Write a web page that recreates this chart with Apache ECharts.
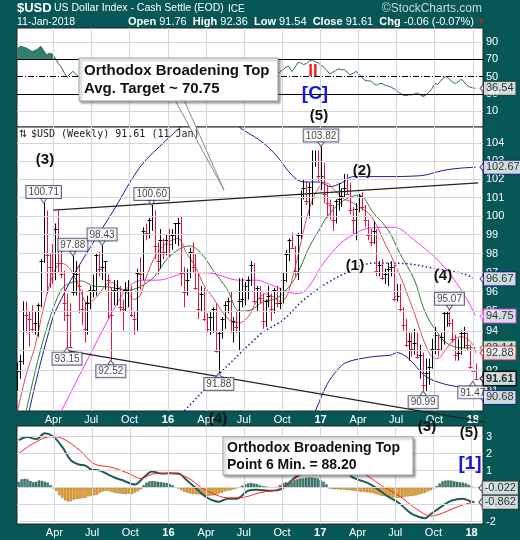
<!DOCTYPE html>
<html><head><meta charset="utf-8">
<script src="https://cdn.jsdelivr.net/npm/echarts@6/dist/echarts.min.js"></script>
<style>html,body{margin:0;padding:0;background:#075757;}#c{width:520px;height:540px;}</style>
</head><body><div id="c"></div>
<script>
// ---------- DATA (weekly, first week = Mon 5 Jan 2015) ----------
const highs = [92.4,92.8,95.5,95.5,95.0,95.3,95.0,95.4,97.7,100.71,100.3,98.0,98.5,99.6,100.3,98.5,97.1,95.9,95.4,97.88,97.6,97.4,96.1,95.5,95.8,96.3,96.9,98.0,98.1,98.43,97.6,96.9,96.2,96.6,96.6,96.3,95.6,96.5,96.6,96.3,95.0,97.2,97.8,99.4,99.6,99.9,100.60,100.3,98.6,99.3,98.8,99.0,
99.3,99.3,99.6,99.9,100.0,97.3,97.2,98.3,98.6,98.0,97.0,96.3,96.2,94.9,95.0,95.2,95.4,94.0,94.7,95.5,95.7,96.0,94.7,95.0,96.7,96.7,96.5,96.8,97.6,97.5,96.3,96.3,95.9,95.6,96.3,95.9,96.2,96.3,96.2,97.0,98.2,98.8,99.1,98.4,99.1,101.4,102.0,101.9,101.8,103.6,103.6,103.6,
103.82,102.9,101.7,100.9,100.6,100.9,101.8,101.5,102.3,102.3,101.8,100.5,100.7,101.2,101.3,100.6,99.8,99.3,99.7,99.3,97.6,97.7,97.2,97.5,97.6,97.4,96.4,96.4,95.2,94.6,93.9,93.9,94.1,93.9,93.3,92.9,92.6,92.6,93.6,94.2,93.8,93.9,95.0,95.0,95.07,94.6,93.8,93.6,94.0,94.2,93.9,93.3,
92.3,92.36];
const lows = [91.0,91.6,92.3,93.9,93.2,93.9,93.8,93.7,95.2,97.5,95.9,96.2,96.4,96.6,97.0,96.7,94.5,93.15,93.2,95.8,95.8,94.9,94.3,93.4,93.8,95.1,95.7,95.8,96.8,96.6,96.1,94.6,92.52,95.3,95.3,95.0,94.0,95.0,95.2,94.7,93.8,94.0,96.1,96.6,98.7,98.8,99.2,97.7,96.9,97.2,97.7,97.9,
97.8,98.2,98.5,98.4,96.3,95.2,95.8,96.7,97.0,96.1,94.6,95.0,94.5,93.9,93.8,93.9,92.9,91.88,93.6,94.1,94.9,93.9,93.4,93.9,93.0,95.2,95.3,95.6,96.3,95.4,95.0,95.4,94.1,94.2,95.2,94.5,94.9,95.2,95.1,95.4,96.5,97.6,98.3,96.8,96.6,98.8,100.9,100.6,99.9,100.6,102.7,101.9,
101.4,100.7,99.9,99.8,99.2,99.6,100.3,100.5,101.0,101.2,100.1,99.0,98.7,100.2,100.3,99.4,98.7,98.4,98.5,96.8,96.8,96.6,96.4,96.3,96.8,95.5,95.5,95.0,94.0,93.2,92.5,92.7,92.8,92.6,91.6,90.99,91.0,91.3,92.1,92.8,92.7,93.0,93.3,94.2,94.2,93.4,92.5,92.5,92.8,93.1,93.0,92.1,
91.47,91.54];
const closes = [92.0,92.5,95.0,94.8,94.6,94.1,94.4,95.3,97.6,100.0,97.9,97.3,97.0,99.3,97.5,96.9,95.4,94.8,93.2,96.0,96.9,96.3,95.1,94.1,95.4,96.1,96.1,97.9,97.2,97.3,97.6,96.6,94.8,96.1,96.2,95.2,95.1,96.1,96.1,94.8,94.6,97.0,96.9,99.2,99.1,99.8,100.0,98.4,97.6,98.7,98.1,98.7,
98.5,99.0,99.6,99.6,97.0,96.0,96.6,98.1,97.3,96.2,95.1,95.9,94.6,94.1,94.7,95.1,93.0,93.9,94.6,95.3,95.5,94.0,94.5,94.2,95.5,95.6,96.3,96.6,97.4,95.5,96.2,95.7,94.5,95.5,95.8,95.1,96.1,95.4,95.4,96.6,98.0,98.7,98.3,97.1,99.0,101.2,101.5,100.8,101.6,103.0,103.0,102.2,
102.2,101.2,100.7,100.6,99.8,100.8,100.9,101.1,101.5,101.2,100.3,99.8,100.4,101.1,100.5,99.8,99.0,98.6,99.2,97.1,97.4,96.7,96.9,97.2,97.3,95.6,95.8,95.1,94.3,93.3,93.5,93.1,93.4,92.7,92.8,91.3,91.9,92.2,93.1,93.8,93.1,93.7,94.9,94.9,94.4,93.6,92.8,92.9,93.9,93.9,93.3,92.2,
92.0,91.61];
const rsi = [82,85,84,83,81,79,80,82,85,80,75,77,76,71,65,61,55,49,53,56,53,50,
48,44,50,54,54,60,56,57,58,53,45,55,56,52,51,55,55,49,48,57,56,64,63,65,66,58,55,59,56,58,57,59,61,61,51,48,50,56,52,48,44,48,43,41,44,46,39,44,47,50,51,45,48,47,52,53,55,56,59,51,55,53,48,53,54,51,55,52,
56,58,61,62,56,60,66,66,64,65,68,69,67,66,63,61,57,53,55,57,59,58,58,55,52,54,56,53,49,46,45,45,42,40,42,42,40,39,38,36,34,31,29,28,29,29,30,31,29,27,29,32,36,42,41,45,49,50,47,44,42,44,47,44,40,38,37,36.54];
const hist = [0.35,0.5,0.53,0.5,0.4,0.33,0.35,0.43,0.4,0.35,0.3,0.15,
-0.05,-0.2,-0.45,-0.6,-0.75,-0.82,-0.8,-0.7,-0.68,-0.65,-0.62,-0.6,-0.52,-0.48,-0.45,-0.42,-0.3,-0.22,-0.18,-0.2,-0.25,-0.3,-0.33,-0.35,-0.38,-0.38,-0.35,-0.38,-0.3,-0.22,-0.1,
0.15,0.3,0.38,0.4,0.38,0.35,0.33,0.3,0.28,0.22,0.15,0.05,
-0.05,-0.15,-0.25,-0.3,-0.35,-0.38,-0.38,-0.4,-0.45,-0.5,-0.5,-0.48,-0.45,-0.42,-0.35,-0.3,-0.22,-0.18,-0.15,-0.1,-0.05,
0.05,0.12,0.2,0.25,0.28,0.25,0.22,0.15,0.1,0.08,0.05,0.03,0.02,0.05,0.15,0.28,0.32,0.3,0.35,0.45,0.5,0.55,0.55,0.58,0.6,0.6,0.58,0.55,0.45,0.35,0.2,
-0.05,-0.08,-0.1,-0.1,-0.12,-0.12,-0.15,-0.15,-0.18,-0.2,-0.22,-0.25,-0.25,-0.28,-0.3,-0.32,-0.38,-0.42,-0.48,-0.5,-0.52,-0.55,-0.58,-0.6,-0.6,-0.58,-0.55,-0.52,-0.5,-0.48,-0.45,-0.4,-0.35,-0.3,-0.22,-0.15,-0.05,
0.1,0.25,0.38,0.42,0.43,0.42,0.38,0.35,0.32,0.3,0.25,0.18,0.08,-0.02];
// [week index, value] readings of the indicator lines
const macdLine = [[0,2.8],[3,2.98],[6,2.85],[9,3.2],[12,3.0],[15,2.4],[18,1.6],[21,1.35],[23,1.3],[25,1.07],[28,1.0],[31,0.75],[33,0.6],[36,0.42],[40,0.18],[43,0.6],[46,0.95],[49,0.83],[52,0.85],[55,0.83],[58,0.42],[62,-0.18],[65,-0.6],[69,-0.83],[72,-0.65],[75,-0.65],[79,-0.18],[82,-0.12],[87,-0.18],[90,-0.12],[94,0.42],[97,0.83],[100,1.2],[104,1.9],[107,2.2],[110,1.7],[113,1.0],[115,0.6],[120,0.3],[123,0],[127,-0.5],[131,-0.9],[135,-1.5],[138,-1.73],[140,-1.8],[142,-1.55],[146,-1.07],[149,-0.77],[153,-0.65],[156,-0.83],[157,-0.862]];
const signalLine = [[0,2.0],[5,2.6],[11,3.0],[15,2.9],[21,2.2],[26,1.4],[32,1.2],[38,0.83],[42,0.54],[47,0.83],[53,0.83],[58,0.6],[63,0],[67,-0.36],[72,-0.6],[76,-0.6],[83,-0.3],[90,-0.06],[94,0.42],[98,0.83],[103,1.5],[108,1.9],[113,1.5],[117,1.0],[121,0.6],[125,0.12],[131,-0.48],[137,-1.25],[142,-1.67],[146,-1.5],[152,-1.07],[157,-0.84]];
const maShort = [[0,90.0],[3,91.8],[6,93.2],[9,95.2],[12,96.8],[15,97.5],[18,97.2],[21,96.3],[24,95.4],[27,95.7],[30,96.3],[32,96.5],[35,96.2],[38,95.9],[40,95.6],[42,95.8],[44,96.7],[47,97.8],[50,98.4],[53,98.7],[55,98.8],[58,98.0],[61,97.3],[64,96.3],[67,95.7],[70,95.0],[73,94.5],[76,94.4],[79,94.7],[82,95.5],[85,95.9],[88,95.7],[90,95.5],[92,95.7],[94,96.6],[96,97.8],[98,99.2],[100,100.4],[102,101.2],[104,101.7],[106,101.8],[108,101.5],[110,101.2],[112,100.9],[114,100.8],[116,100.6],[118,100.4],[120,100.2],[122,99.8],[124,99.2],[126,98.5],[128,97.9],[130,97.2],[132,96.5],[134,95.7],[136,94.9],[138,94.0],[140,93.2],[142,92.7],[144,92.6],[146,92.9],[148,93.3],[150,93.6],[152,93.7],[154,93.6],[156,93.3],[157,92.88]];
const maMid = [[1,88.5],[3,90.0],[7,92.5],[11,94.6],[15,96.1],[18,96.45],[22,96.56],[26,96.3],[31,96.25],[38,96.1],[42,96.25],[47,96.8],[51,97.66],[56,98.29],[59,98.4],[63,98.0],[67,97.13],[72,96.1],[76,95.0],[80,95.06],[84,95.47],[89,95.68],[94,96.45],[97,97.29],[100,98.35],[104,99.41],[106,99.95],[111,100.76],[117,101.14],[122,100.16],[127,99.25],[131,98.02],[136,96.61],[139,95.21],[141,94.55],[144,93.89],[147,93.38],[152,93.14],[157,93.14]];
const maLong = [[10,88.5],[15,90.0],[31,94.55],[33,95.1],[38,96.25],[43,96.6],[48,96.6],[59,97.0],[66,96.97],[76,96.6],[82,96.6],[87,96.35],[96,95.9],[100,96.3],[104,97.3],[108,98.1],[112,98.7],[121,99.36],[129,99.4],[136,98.7],[145,97.5],[152,96.1],[157,94.75]];
const bandUpper = [[2,88.0],[4,90.0],[12,94.6],[15,95.6],[19,96.8],[25,98.34],[33,100.32],[42,102.68],[51,104.18],[56,104.92],[63,106.0],[70,106.0],[76,104.92],[83,104.18],[88,103.45],[96,101.96],[100,101.85],[104,101.85],[107,101.6],[111,101.8],[115,102.15],[125,102.15],[138,102.2],[146,102.5],[152,102.62],[157,102.67]];
const bandLower = [[97,88.6],[102,90.0],[106,91.3],[110,92.1],[113,92.43],[121,92.68],[128,92.78],[130,92.9],[134,92.6],[140,91.7],[146,91.35],[152,91.14],[157,90.68]];
const maDotted = [[40,87.3],[57,90.0],[83,93.8],[91,94.55],[98,95.57],[106,96.45],[113,97.02],[118,97.39],[123,97.5],[134,97.45],[142,97.24],[152,96.97],[157,96.67]];
const peakLabels = [[9,'100.71','top'],[19,'97.88','top'],[29,'98.43','top'],[46,'100.60','top'],[104,'103.82','top'],[148,'95.07','top'],[17,'93.15','bottom'],[32,'92.52','bottom'],[69,'91.88','bottom'],[139,'90.99','bottom'],[156,'91.47','bottom']];
const trendUpper = [['2015-04-01',100.32],['2018-01-14',101.8]];
const trendLower = [['2015-05-04',93.0],['2018-02-12',89.44]];
const priceTicks = [91,92,93,94,95,96,97,98,99,100,101,102,103,104];
const rsiTicks = [90,70,50,30,10];
const macdTicks = [3,2,1,0,-1,-2];
const quarterDates = ['2015-04-01','2015-07-01','2015-10-01','2016-01-01','2016-04-01','2016-07-01','2016-10-01','2017-01-01','2017-04-01','2017-07-01','2017-10-01','2018-01-01'];
const quarterLabels = ['Apr','Jul','Oct','16','Apr','Jul','Oct','17','Apr','Jul','Oct','18'];
const endTags = [['102.67',102.67,'#1a1a8a'],['96.67',96.67,'#1a1a8a'],['94.75',94.75,'#ff33ff'],['93.14',93.14,'#2e7d32'],['92.88',92.88,'#d81b3c'],['91.61',91.61,'#000'],['90.68',90.68,'#1a1a8a']];
const rsiTag = 36.54;
const macdTags = [['-0.022',-0.022],['-0.862',-0.862]];

// ---------- BUILD ----------
const DAY = 86400000;
const weeks = highs.map((_, i) => new Date(2015, 0, 5 + 7 * i).getTime());
const xMin = new Date(2015, 0, 4).getTime();
const xMax = xMin + 1117.5 * DAY;
const pts = arr => arr.map(([i, v]) => [weeks[i], v]);
const FONT = '"Liberation Sans", Arial, sans-serif';

const barData = highs.map((h, i) => [weeks[i], h, lows[i], closes[i], i === 0 || closes[i] >= closes[i - 1] ? 1 : 0]);

function renderBar(params, api) {
  const t = api.value(0);
  const pH = api.coord([t, api.value(1)]);
  const pL = api.coord([t, api.value(2)]);
  const pC = api.coord([t, api.value(3)]);
  const x = Math.round(pH[0]) + 0.5;
  const yc = Math.round(pC[1]) + 0.5;
  const col = api.value(4) ? '#000000' : '#e3123f';
  return { type: 'group', children: [
    { type: 'line', shape: { x1: x, y1: pH[1], x2: x, y2: pL[1] }, style: { stroke: col, lineWidth: 1 } },
    { type: 'line', shape: { x1: x - 2, y1: yc, x2: x + 2, y2: yc }, style: { stroke: col, lineWidth: 1 } }
  ]};
}

const gridLineStyle = { color: '#d6d6d6', width: 1, type: 'solid' };
function vLines(withLabels) {
  return quarterDates.map((d, k) => ({
    xAxis: d,
    lineStyle: gridLineStyle,
    label: { show: withLabels, position: 'start', formatter: quarterLabels[k], fontWeight: /^\d/.test(quarterLabels[k]) ? 'bold' : 'normal' }
  }));
}
const mlBase = { silent: true, symbol: ['none', 'none'], animation: false };
const axisLabelStyle = { color: '#fff', fontSize: 11, fontFamily: FONT, distance: 3 };

const lineS = (name, data, color, grid, extra) => Object.assign({
  type: 'line', name, data, xAxisIndex: grid, yAxisIndex: grid, showSymbol: false, symbol: 'none',
  lineStyle: { color, width: 1 }, smooth: 0.35, z: 3, silent: true
}, extra || {});

const tagLabel = (text, border, bold) => ({
  show: true, position: 'right', distance: 1, formatter: text, color: '#000', fontSize: 11, fontFamily: FONT,
  fontWeight: bold ? 'bold' : 'normal', backgroundColor: '#fff', borderColor: border, borderWidth: bold ? 1.5 : 1,
  padding: [1, 2, 0, 2], lineHeight: 12
});
const notch = (grid, items, z) => ({
  type: 'scatter', xAxisIndex: grid, yAxisIndex: grid, z, silent: true, symbol: 'triangle', symbolRotate: 90,
  symbolSize: [9, 4], symbolOffset: [-1, 0],
  data: items.map(([v, col]) => ({ value: [xMax, v], itemStyle: { color: '#fff', borderColor: col, borderWidth: 1 } }))
});

const option = {
  animation: false,
  backgroundColor: '#075757',
  grid: [
    { left: 17, width: 466, top: 28, height: 99, show: true, backgroundColor: '#fff', borderColor: '#222', borderWidth: 1 },
    { left: 17, width: 466, top: 127, height: 284, show: true, backgroundColor: '#fff', borderColor: '#222', borderWidth: 1 },
    { left: 17, width: 466, top: 426, height: 98, show: true, backgroundColor: '#fff', borderColor: '#222', borderWidth: 1 }
  ],
  xAxis: [0, 1, 2].map(g => ({ type: 'time', gridIndex: g, min: xMin, max: xMax, axisLabel: { show: false }, axisTick: { show: false }, axisLine: { show: false }, splitLine: { show: false } })),
  yAxis: [
    { type: 'value', gridIndex: 0, min: -8, max: 106, axisLabel: { show: false }, axisTick: { show: false }, axisLine: { show: false }, splitLine: { show: false } },
    { type: 'log', logBase: 10, gridIndex: 1, min: 90.02, max: 104.92, axisLabel: { show: false }, axisTick: { show: false }, axisLine: { show: false }, splitLine: { show: false } },
    { type: 'value', gridIndex: 2, min: -2.14, max: 3.63, axisLabel: { show: false }, axisTick: { show: false }, axisLine: { show: false }, splitLine: { show: false } }
  ],
  series: [
    // ---- grid lines + axis labels ----
    { type: 'line', data: [], xAxisIndex: 0, yAxisIndex: 0, z: 1, markLine: Object.assign({}, mlBase, {
      label: axisLabelStyle,
      data: vLines(false).concat(rsiTicks.map(v => ({
        yAxis: v, label: { show: true, position: 'end', formatter: String(v) },
        lineStyle: v === 70 || v === 30 ? { color: '#000', width: 1, type: 'solid' } : v === 50 ? { color: '#000', width: 1, type: [6, 2, 1, 2] } : gridLineStyle
      })))
    }) },
    { type: 'line', data: [], xAxisIndex: 1, yAxisIndex: 1, z: 1, markLine: Object.assign({}, mlBase, {
      label: axisLabelStyle,
      data: vLines(true).concat(priceTicks.map(v => ({
        yAxis: v, lineStyle: gridLineStyle, label: { show: true, position: 'end', formatter: String(v) }
      })))
    }) },
    { type: 'line', data: [], xAxisIndex: 2, yAxisIndex: 2, z: 1, markLine: Object.assign({}, mlBase, {
      label: axisLabelStyle,
      data: vLines(true).concat(macdTicks.map(v => ({
        yAxis: v, lineStyle: gridLineStyle, label: { show: true, position: 'end', formatter: String(v) }
      })))
    }) },
    // ---- RSI panel ----
    { type: 'line', data: rsi.map((v, i) => [weeks[i], 70]), stack: 'ob', xAxisIndex: 0, yAxisIndex: 0, symbol: 'none', lineStyle: { opacity: 0 }, z: 2, silent: true },
    { type: 'line', data: rsi.map((v, i) => [weeks[i], Math.max(v - 70, 0)]), stack: 'ob', xAxisIndex: 0, yAxisIndex: 0, symbol: 'none', lineStyle: { opacity: 0 }, areaStyle: { color: '#2f7f6e', opacity: 1 }, z: 2, silent: true },
    { type: 'line', data: rsi.map((v, i) => [weeks[i], Math.min(v, 30)]), stack: 'os', xAxisIndex: 0, yAxisIndex: 0, symbol: 'none', lineStyle: { opacity: 0 }, z: 2, silent: true },
    { type: 'line', data: rsi.map((v, i) => [weeks[i], 30 - Math.min(v, 30)]), stack: 'os', xAxisIndex: 0, yAxisIndex: 0, symbol: 'none', lineStyle: { opacity: 0 }, areaStyle: { color: '#f0a21c', opacity: 1 }, z: 2, silent: true },
    lineS('rsi', rsi.map((v, i) => [weeks[i], v]), '#2b6a62', 0, { smooth: false }),
    notch(0, [[rsiTag, '#333']], 5),
    { type: 'scatter', xAxisIndex: 0, yAxisIndex: 0, symbolSize: 0, z: 6, silent: true, data: [[xMax, rsiTag]], label: tagLabel(String(rsiTag), '#333') },
    // ---- main panel ----
    lineS('dotted', pts(maDotted), '#1c1c9a', 1, { lineStyle: { color: '#1c1c9a', width: 1.5, type: [1.5, 2.5] } }),
    lineS('upper', pts(bandUpper), '#1c1c9a', 1),
    lineS('lower', pts(bandLower), '#1c1c9a', 1),
    lineS('maLong', pts(maLong), '#ff33ff', 1),
    lineS('maMid', pts(maMid), '#2e7d32', 1),
    lineS('maShort', pts(maShort), '#e0485a', 1),
    { type: 'custom', xAxisIndex: 1, yAxisIndex: 1, renderItem: renderBar, data: barData, encode: { x: 0, y: [1, 2] }, z: 4, clip: true, silent: true },
    lineS('trendU', trendUpper, '#222', 1, { smooth: false, lineStyle: { color: '#222', width: 1.3 }, z: 5 }),
    lineS('trendL', trendLower, '#222', 1, { smooth: false, clip: false, lineStyle: { color: '#222', width: 1.3 }, z: 5 }),
    // pointer notches of the high/low labels
    { type: 'scatter', xAxisIndex: 1, yAxisIndex: 1, z: 6, silent: true, symbol: 'triangle', symbolSize: [7, 5],
      data: peakLabels.map(([i, txt, pos]) => ({ value: [weeks[i], pos === 'top' ? highs[i] : lows[i]],
        symbolRotate: pos === 'top' ? 180 : 0, symbolOffset: [0, pos === 'top' ? -2.5 : 2.5],
        itemStyle: { color: '#fff', borderColor: '#3b3f63', borderWidth: 1 } })) },
    { type: 'scatter', xAxisIndex: 1, yAxisIndex: 1, symbolSize: 0, z: 7, silent: true,
      data: peakLabels.map(([i, txt, pos]) => ({ value: [weeks[i], pos === 'top' ? highs[i] : lows[i]], label: {
        show: true, position: pos, distance: 5, formatter: txt, color: '#111', fontSize: 10, fontFamily: FONT,
        backgroundColor: '#fff', borderColor: '#3b3f63', borderWidth: 1, padding: [1, 2, 0, 2], lineHeight: 11 } })) },
    notch(1, endTags.map(([t, v, c]) => [v, c]), 7),
    { type: 'scatter', xAxisIndex: 1, yAxisIndex: 1, symbolSize: 0, z: 8, silent: true,
      data: endTags.map(([txt, v, col]) => ({ value: [xMax, v], label: tagLabel(txt, col, txt === '91.61') })) },
    // ---- MACD panel ----
    { type: 'bar', xAxisIndex: 2, yAxisIndex: 2, barWidth: 2.6, z: 2, silent: true,
      data: hist.map((v, i) => ({ value: [weeks[i], v], itemStyle: { color: v >= 0 ? '#2e7d6e' : '#f0a21c', borderColor: 'rgba(60,60,60,0.6)', borderWidth: 0.4 } })) },
    lineS('macd', pts(macdLine), '#1e5e57', 2, { lineStyle: { color: '#1e5e57', width: 2 } }),
    lineS('signal', pts(signalLine), '#ff2222', 2),
    notch(2, macdTags.map(([t, v]) => [v, '#333']), 7),
    { type: 'scatter', xAxisIndex: 2, yAxisIndex: 2, symbolSize: 0, z: 8, silent: true,
      data: macdTags.map(([txt, v]) => ({ value: [xMax, v], label: tagLabel(txt, '#333') })) }
  ],
  graphic: { elements: [
    { type: 'text', x: 17, y: 2, z: 100, style: { text: '$USD', fill: '#fff', font: 'bold 13px ' + FONT, textVerticalAlign: 'top' } },
    { type: 'text', x: 54, y: 3, z: 100, style: { text: 'US Dollar Index - Cash Settle (EOD)', fill: '#fff', font: '10.5px ' + FONT, textVerticalAlign: 'top' } },
    { type: 'text', x: 228, y: 4, z: 100, style: { text: 'ICE', fill: '#fff', font: '10px ' + FONT, textVerticalAlign: 'top' } },
    { type: 'text', x: 482, y: 3, z: 100, style: { text: '©StockCharts.com', fill: '#c9d9d9', font: '12px ' + FONT, textAlign: 'right', textVerticalAlign: 'top' } },
    { type: 'text', x: 17, y: 17, z: 100, style: { text: '11-Jan-2018', fill: '#fff', font: '10.5px ' + FONT, textVerticalAlign: 'top' } },
    { type: 'text', x: 128, y: 16, z: 100, style: {
      text: '{b|Open} 91.76  {b|High} 92.36  {b|Low} 91.54  {b|Close} 91.61  {b|Chg} -0.06 (-0.07%) {r|▼}',
      fill: '#fff', font: '11px ' + FONT, textVerticalAlign: 'top',
      rich: { b: { fontWeight: 'bold', fontSize: 11, fill: '#fff', fontFamily: FONT }, r: { fill: '#d8102c', fontSize: 8 } } } },
    { type: 'text', x: 19, y: 129, z: 100, style: { text: '⇅', fill: '#222', font: '10px "DejaVu Sans", sans-serif', textVerticalAlign: 'top' } },
    { type: 'text', x: 31, y: 129, z: 100, style: { text: '$USD (Weekly) 91.61 (11 Jan)', fill: '#222', font: '10px "DejaVu Sans Mono", monospace', textVerticalAlign: 'top' } },
    // callout 1
    { type: 'polygon', z: 99, shape: { points: [[175, 100], [184, 100], [224, 190]] }, style: { fill: '#fff', stroke: '#8a8a8a', lineWidth: 1 } },
    { type: 'rect', z: 100, shape: { x: 79, y: 58, width: 199, height: 43 }, style: { fill: '#fff', stroke: '#9a9a9a', lineWidth: 1, shadowBlur: 2, shadowOffsetX: 2, shadowOffsetY: 2, shadowColor: 'rgba(0,0,0,0.35)' } },
    { type: 'text', z: 101, x: 84, y: 62, style: { text: 'Orthodox Broadening Top\nAvg. Target ~ 70.75', fill: '#111', font: 'bold 15px ' + FONT, lineHeight: 18, textVerticalAlign: 'top' } },
    // callout 2
    { type: 'rect', z: 100, shape: { x: 223, y: 437, width: 190, height: 38 }, style: { fill: '#fff', stroke: '#9a9a9a', lineWidth: 1, shadowBlur: 2, shadowOffsetX: 2, shadowOffsetY: 2, shadowColor: 'rgba(0,0,0,0.35)' } },
    { type: 'text', z: 101, x: 227, y: 440, style: { text: 'Orthodox Broadening Top\nPoint 6 Min. = 88.20', fill: '#111', font: 'bold 14px ' + FONT, lineHeight: 17, textVerticalAlign: 'top' } },
    // wave labels
    ...[['(3)', 45, 160], ['(5)', 319, 116], ['(2)', 362, 171], ['(1)', 355, 266], ['(4)', 443, 276], ['(4)', 218, 419], ['(3)', 427, 427], ['(5)', 469, 433]].map(([t, x, y]) => ({
      type: 'text', z: 102, x, y, style: { text: t, fill: '#111', font: 'bold 15px ' + FONT, textAlign: 'center', textVerticalAlign: 'middle' } })),
    { type: 'text', z: 102, x: 315, y: 94, style: { text: '[C]', fill: '#1414e6', font: 'bold 19px ' + FONT, textAlign: 'center', textVerticalAlign: 'middle' } },
    { type: 'text', z: 102, x: 313, y: 71, style: { text: 'II', fill: '#ff1a1a', font: 'bold 17px ' + FONT, textAlign: 'center', textVerticalAlign: 'middle' } },
    { type: 'text', z: 102, x: 470, y: 464, style: { text: '[1]', fill: '#1414e6', font: 'bold 19px ' + FONT, textAlign: 'center', textVerticalAlign: 'middle' } }
  ] }
};

const chart = echarts.init(document.getElementById('c'), null, { renderer: 'canvas' });
chart.setOption(option);
</script>
</body></html>
